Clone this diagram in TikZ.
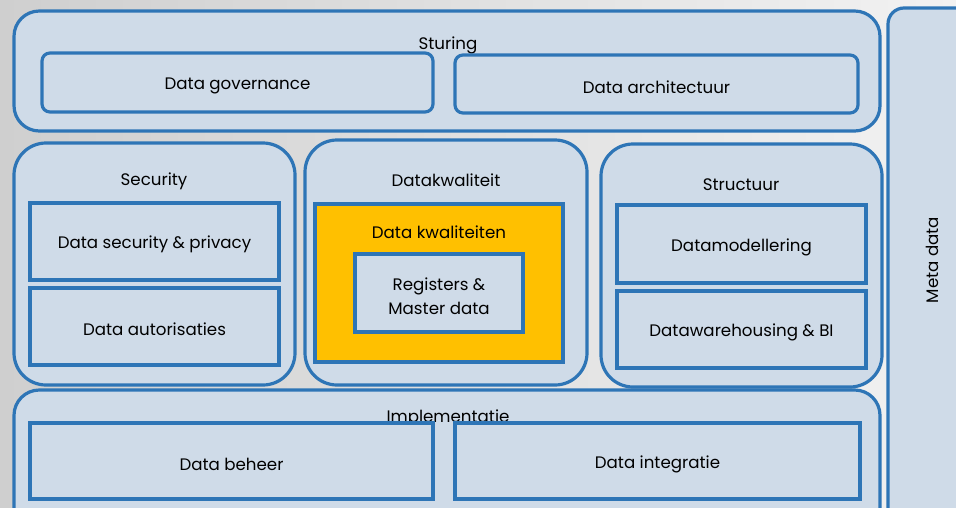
\documentclass[tikz,border=0pt]{standalone}
\usepackage{fontspec}
\setmainfont{Poppins}
\usetikzlibrary{fit}
\definecolor{bgA}{HTML}{CFCFCF}
\definecolor{bgB}{HTML}{F2F2F2}
\definecolor{boxfill}{HTML}{CFDBE8}
\definecolor{boxline}{HTML}{2E75B6}
\definecolor{gold}{HTML}{FFC000}
\tikzset{
  big/.style={draw=boxline, fill=boxfill, line width=2.4pt, rounded corners=19pt, inner sep=0pt},
  mid/.style={draw=boxline, fill=boxfill, line width=2.4pt, rounded corners=6pt, inner sep=0pt},
  sq/.style={draw=boxline, fill=boxfill, line width=2.4pt, inner sep=0pt},
  goldbox/.style={draw=boxline, fill=gold, line width=2.4pt, inner sep=0pt},
  lbl/.style={font=\fontsize{12.5}{18}\selectfont, text=black, inner sep=0pt, align=center, yshift=-2.4pt},
}
\begin{document}
\begin{tikzpicture}[x=0.75pt, y=-0.75pt]
\useasboundingbox (0,0) rectangle (956,507);
\shade[left color=bgA, right color=bgB] (0,0) rectangle (956,507);
% Meta data column
\node[big, rounded corners=12pt, fit={(888,8) (990,540)}] (meta) {};
\node[lbl, yshift=2.4pt, rotate=90] (metat) at (932,260) {Meta data};
% Sturing
\node[big, fit={(14,11) (880,131)}] (sturing) {};
\node[lbl] (sturingt) at (448,42) {Sturing};
\node[mid, fit={(42,53) (433,112)}] (gov) {};
\node[lbl] (govt) at (gov.center) {Data governance};
\node[mid, fit={(455,55) (858,113)}] (arch) {};
\node[lbl] (archt) at (arch.center) {Data architectuur};
% Security
\node[big, rounded corners=24pt, fit={(14,143) (295,385)}] (sec) {};
\node[lbl] (sect) at (154,178) {Security};
\node[sq, fit={(30,203) (279,280)}] (secpriv) {};
\node[lbl] (secprivt) at (secpriv.center) {Data security \& privacy};
\node[sq, fit={(30,288) (279,365)}] (autor) {};
\node[lbl] (autort) at (autor.center) {Data autorisaties};
% Datakwaliteit
\node[big, rounded corners=24pt, fit={(305,140) (587,385)}] (dk) {};
\node[lbl] (dkt) at (446,177) {Datakwaliteit};
\node[goldbox, fit={(315,204) (563,362)}] (dkw) {};
\node[lbl] (dkwt) at (439,229) {Data kwaliteiten};
\node[sq, fit={(355,254) (523,332)}] (reg) {};
\node[lbl] (regt) at (reg.center) {Registers \&\\Master data};
% Structuur
\node[big, rounded corners=24pt, fit={(601,144) (882,387)}] (str) {};
\node[lbl] (strt) at (741,181) {Structuur};
\node[sq, fit={(617,205) (866,283)}] (dmod) {};
\node[lbl] (dmodt) at (dmod.center) {Datamodellering};
\node[sq, fit={(617,291) (866,368)}] (dwh) {};
\node[lbl] (dwht) at (dwh.center) {Datawarehousing \& BI};
% Implementatie
\node[big, fit={(14,390) (880,540)}] (impl) {};
\node[lbl] (implt) at (448,415) {Implementatie};
\node[sq, fit={(30,423) (433,499)}] (beheer) {};
\node[lbl] (beheert) at (beheer.center) {Data beheer};
\node[sq, fit={(455,423) (860,499)}] (integr) {};
\node[lbl] (integrt) at (integr.center) {Data integratie};
\end{tikzpicture}
\end{document}
